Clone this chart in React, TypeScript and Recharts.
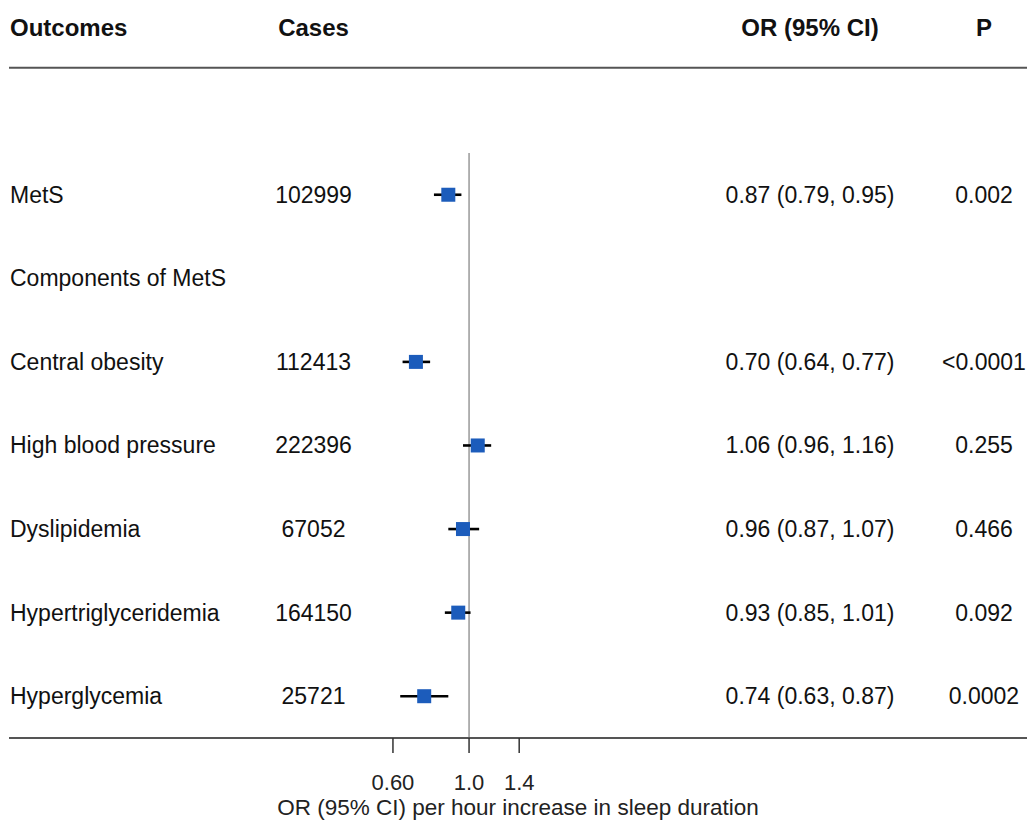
import { ErrorBar, Label, ReferenceLine, Scatter, ScatterChart, XAxis, YAxis } from "recharts";

const HEADERS = ["Outcomes", "Cases", "OR (95% CI)", "P"];
const OUTCOMES = [
  "MetS",
  "Components of MetS",
  "Central obesity",
  "High blood pressure",
  "Dyslipidemia",
  "Hypertriglyceridemia",
  "Hyperglycemia",
];
const CASES = ["102999", "", "112413", "222396", "67052", "164150", "25721"];
const OR = [0.87, null, 0.7, 1.06, 0.96, 0.93, 0.74];
const LOWER = [0.79, null, 0.64, 0.96, 0.87, 0.85, 0.63];
const UPPER = [0.95, null, 0.77, 1.16, 1.07, 1.01, 0.87];
const P_VALUES = ["0.002", "", "<0.0001", "0.255", "0.466", "0.092", "0.0002"];
const X_TICKS = [0.6, 1.0, 1.4];
const X_TICK_LABELS = ["0.60", "1.0", "1.4"];
const AXIS_TITLE = "OR (95% CI) per hour increase in sleep duration";

const FONT = "'Liberation Sans', Arial, sans-serif";
const SQUARE = "#1c5cbb";
// pixel columns of the table text
const COL_X = [10, 313.5, 810, 984];

const fmt = (v: number) => v.toFixed(2);

const tableRows = [
  { x: 1, y: -2, header: true, cells: HEADERS },
  ...OUTCOMES.map((name, i) => ({
    x: 1,
    y: i,
    header: false,
    cells: [
      name,
      CASES[i],
      OR[i] == null ? "" : `${fmt(OR[i] as number)} (${fmt(LOWER[i] as number)}, ${fmt(UPPER[i] as number)})`,
      P_VALUES[i],
    ],
  })),
];

const points = OUTCOMES.map((name, i) => ({ name, x: OR[i], y: i, lo: LOWER[i], hi: UPPER[i] }))
  .filter((d) => d.x != null)
  .map((d) => ({ ...d, err: [(d.x as number) - (d.lo as number), (d.hi as number) - (d.x as number)] }));

function TableRow(props: any) {
  const { cy, payload } = props;
  return (
    <g>
      {payload.cells.map((txt: string, j: number) =>
        txt ? (
          <text
            key={j}
            x={COL_X[j]}
            y={cy}
            dominantBaseline="central"
            textAnchor={j === 0 ? "start" : "middle"}
            fontSize={payload.header ? 24 : 23}
            fontWeight={payload.header ? 700 : 400}
            fill="#111"
          >
            {txt}
          </text>
        ) : null
      )}
    </g>
  );
}

function Square(props: any) {
  const { cx, cy } = props;
  return <rect x={cx - 7} y={cy - 7} width={14} height={14} fill={SQUARE} />;
}

export default function App() {
  return (
    <div style={{ width: 1027, height: 822, fontFamily: FONT, background: "#fff" }}>
      <style>{`body{margin:0}`}</style>
      <ScatterChart width={1027} height={822} margin={{ top: 0, right: 0, bottom: 0, left: 9 }}>
        <XAxis
          type="number"
          dataKey="x"
          scale="log"
          domain={[0.0456, 42.3]}
          allowDataOverflow
          ticks={X_TICKS}
          tickFormatter={(v: number) => X_TICK_LABELS[X_TICKS.indexOf(v)] ?? String(v)}
          height={84}
          tickSize={15}
          tickMargin={21}
          axisLine={{ stroke: "#555", strokeWidth: 2 }}
          tickLine={{ stroke: "#333", strokeWidth: 1.5 }}
          tick={{ fontSize: 22, fill: "#222" }}
          interval={0}
        >
          <Label value={AXIS_TITLE} position="insideBottom" offset={7} style={{ fontSize: 22.5, fill: "#222" }} />
        </XAxis>
        <YAxis type="number" dataKey="y" domain={[-2.33, 6.5]} reversed hide allowDataOverflow />
        <ReferenceLine y={-1.52} stroke="#555" strokeWidth={2} />
        <ReferenceLine
          segment={[
            { x: 1, y: -0.5 },
            { x: 1, y: 6.5 },
          ]}
          stroke="#999"
          strokeWidth={1.5}
        />
        <Scatter data={tableRows} shape={<TableRow />} isAnimationActive={false} />
        <Scatter data={points} shape={() => <g />} isAnimationActive={false}>
          <ErrorBar dataKey="err" direction="x" width={0} stroke="#000" strokeWidth={2.6} />
        </Scatter>
        <Scatter data={points} shape={<Square />} isAnimationActive={false} />
      </ScatterChart>
    </div>
  );
}
